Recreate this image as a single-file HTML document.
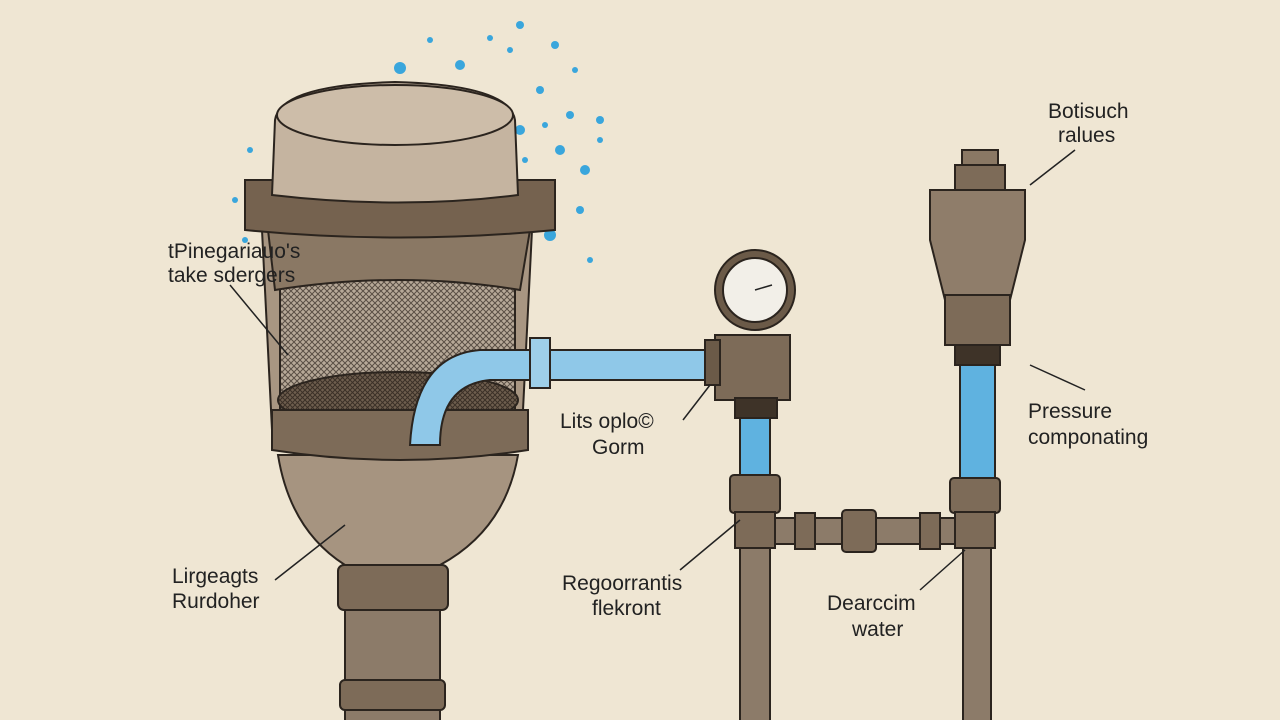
<!DOCTYPE html>
<html><head><meta charset="utf-8"><style>
html,body{margin:0;padding:0;background:#efe6d3;}
svg{display:block}
text{font-family:"Liberation Sans",sans-serif;fill:#222;font-size:21px}
</style></head><body>
<svg width="1280" height="720" viewBox="0 0 1280 720" xmlns="http://www.w3.org/2000/svg">
<defs>
<pattern id="mesh" width="6" height="6" patternUnits="userSpaceOnUse">
<rect width="6" height="6" fill="#b7a998"/>
<path d="M0 0L6 6M6 0L0 6" stroke="#5a4f45" stroke-width="1"/>
</pattern>
<pattern id="mesh2" width="5" height="5" patternUnits="userSpaceOnUse">
<rect width="5" height="5" fill="#6e5e4e"/>
<path d="M0 0L5 5M5 0L0 5" stroke="#3b3027" stroke-width="1"/>
</pattern>
</defs>
<rect width="1280" height="720" fill="#efe6d3"/>
<g fill="#3aa6dc">
<circle cx="400" cy="68" r="6"/><circle cx="460" cy="65" r="5"/><circle cx="520" cy="130" r="5"/><circle cx="540" cy="90" r="4"/><circle cx="560" cy="150" r="5"/><circle cx="580" cy="210" r="4"/><circle cx="550" cy="235" r="6"/><circle cx="600" cy="120" r="4"/><circle cx="530" cy="190" r="4"/><circle cx="250" cy="150" r="3"/><circle cx="235" cy="200" r="3"/><circle cx="575" cy="70" r="3"/><circle cx="510" cy="50" r="3"/><circle cx="430" cy="40" r="3"/><circle cx="590" cy="260" r="3"/><circle cx="555" cy="45" r="4"/><circle cx="490" cy="38" r="3"/><circle cx="520" cy="25" r="4"/><circle cx="585" cy="170" r="5"/><circle cx="570" cy="115" r="4"/><circle cx="545" cy="125" r="3"/><circle cx="525" cy="160" r="3"/><circle cx="600" cy="140" r="3"/><circle cx="452" cy="262" r="4"/><circle cx="370" cy="515" r="4"/><circle cx="245" cy="240" r="3"/><circle cx="540" cy="210" r="4"/>
</g>
<g stroke="#2b241e" stroke-width="2">
<rect x="345" y="560" width="95" height="170" fill="#8c7b69"/>
<rect x="338" y="565" width="110" height="45" rx="6" fill="#7d6b58"/>
<rect x="340" y="680" width="105" height="30" rx="5" fill="#7d6b58"/>
<path d="M278 455 L518 455 Q505 530 440 565 L345 565 Q290 530 278 455Z" fill="#a69480"/>
<path d="M262 230 L532 230 L522 430 L272 430Z" fill="#a89682"/>
<rect x="280" y="270" width="235" height="150" fill="url(#mesh)"/>
<ellipse cx="398" cy="400" rx="120" ry="28" fill="url(#mesh2)"/>
<path d="M272 410 L528 410 L528 450 Q400 470 272 450Z" fill="#7d6b58"/>
<path d="M268 230 L530 230 L520 290 Q400 270 275 290Z" fill="#8a7864"/>
<path d="M245 180 L555 180 L555 230 Q400 245 245 230Z" fill="#75624f"/>
<path d="M272 195 L275 120 Q280 85 395 82 Q510 85 515 120 L518 195 Q400 210 272 195Z" fill="#c5b4a0"/>
<ellipse cx="395" cy="115" rx="118" ry="30" fill="#cdbda9"/>
<path d="M410 445 Q415 355 480 350 L720 350 L720 380 L490 380 Q440 385 440 445Z" fill="#8fc8e8"/>
<rect x="530" y="338" width="20" height="50" fill="#9ecfe8"/>
<circle cx="755" cy="290" r="40" fill="#6b5a48"/>
<circle cx="755" cy="290" r="32" fill="#f2efe8"/>
<path d="M715 335 L790 335 L790 400 L715 400Z" fill="#7d6b58"/>
<rect x="705" y="340" width="15" height="45" fill="#6b5a48"/>
<rect x="735" y="398" width="42" height="20" fill="#3e3328"/>
<rect x="740" y="418" width="30" height="60" fill="#5fb2e0"/>
<rect x="730" y="475" width="50" height="38" rx="4" fill="#7d6b58"/>
<rect x="740" y="513" width="30" height="210" fill="#8c7b69"/>
<rect x="735" y="512" width="40" height="36" fill="#7d6b58"/>
<rect x="775" y="518" width="180" height="26" fill="#8c7b69"/>
<rect x="795" y="513" width="20" height="36" fill="#7d6b58"/>
<rect x="842" y="510" width="34" height="42" rx="4" fill="#7d6b58"/>
<rect x="920" y="513" width="20" height="36" fill="#7d6b58"/>
<rect x="962" y="150" width="36" height="40" fill="#8a7864"/>
<rect x="955" y="165" width="50" height="25" fill="#7d6b58"/>
<path d="M930 190 L1025 190 L1025 240 L1010 300 L945 300 L930 240Z" fill="#8f7d6a"/>
<rect x="945" y="295" width="65" height="50" fill="#7d6b58"/>
<rect x="955" y="345" width="45" height="20" fill="#3e3328"/>
<rect x="960" y="365" width="35" height="115" fill="#5fb2e0"/>
<rect x="950" y="478" width="50" height="35" rx="4" fill="#7d6b58"/>
<rect x="955" y="512" width="40" height="36" fill="#7d6b58"/>
<rect x="963" y="548" width="28" height="175" fill="#8c7b69"/>
</g>
<g stroke="#222" stroke-width="1.5" fill="none">
<line x1="755" y1="290" x2="772" y2="285"/>
<path d="M230 285 L288 355"/><path d="M275 580 L345 525"/><path d="M683 420 L710 385"/>
<path d="M680 570 L740 520"/><path d="M920 590 L965 550"/><path d="M1030 365 L1085 390"/>
<path d="M1030 185 L1075 150"/>
</g>
<text x="168" y="258">tPinegariauo's</text>
<text x="168" y="282">take sdergers</text>
<text x="560" y="428">Lits oplo©</text>
<text x="592" y="454">Gorm</text>
<text x="172" y="583">Lirgeagts</text>
<text x="172" y="608">Rurdoher</text>
<text x="562" y="590">Regoorrantis</text>
<text x="592" y="615">flekront</text>
<text x="827" y="610">Dearccim</text>
<text x="852" y="636">water</text>
<text x="1048" y="118">Botisuch</text>
<text x="1058" y="142">ralues</text>
<text x="1028" y="418">Pressure</text>
<text x="1028" y="444">componating</text>
</svg>
</body></html>
